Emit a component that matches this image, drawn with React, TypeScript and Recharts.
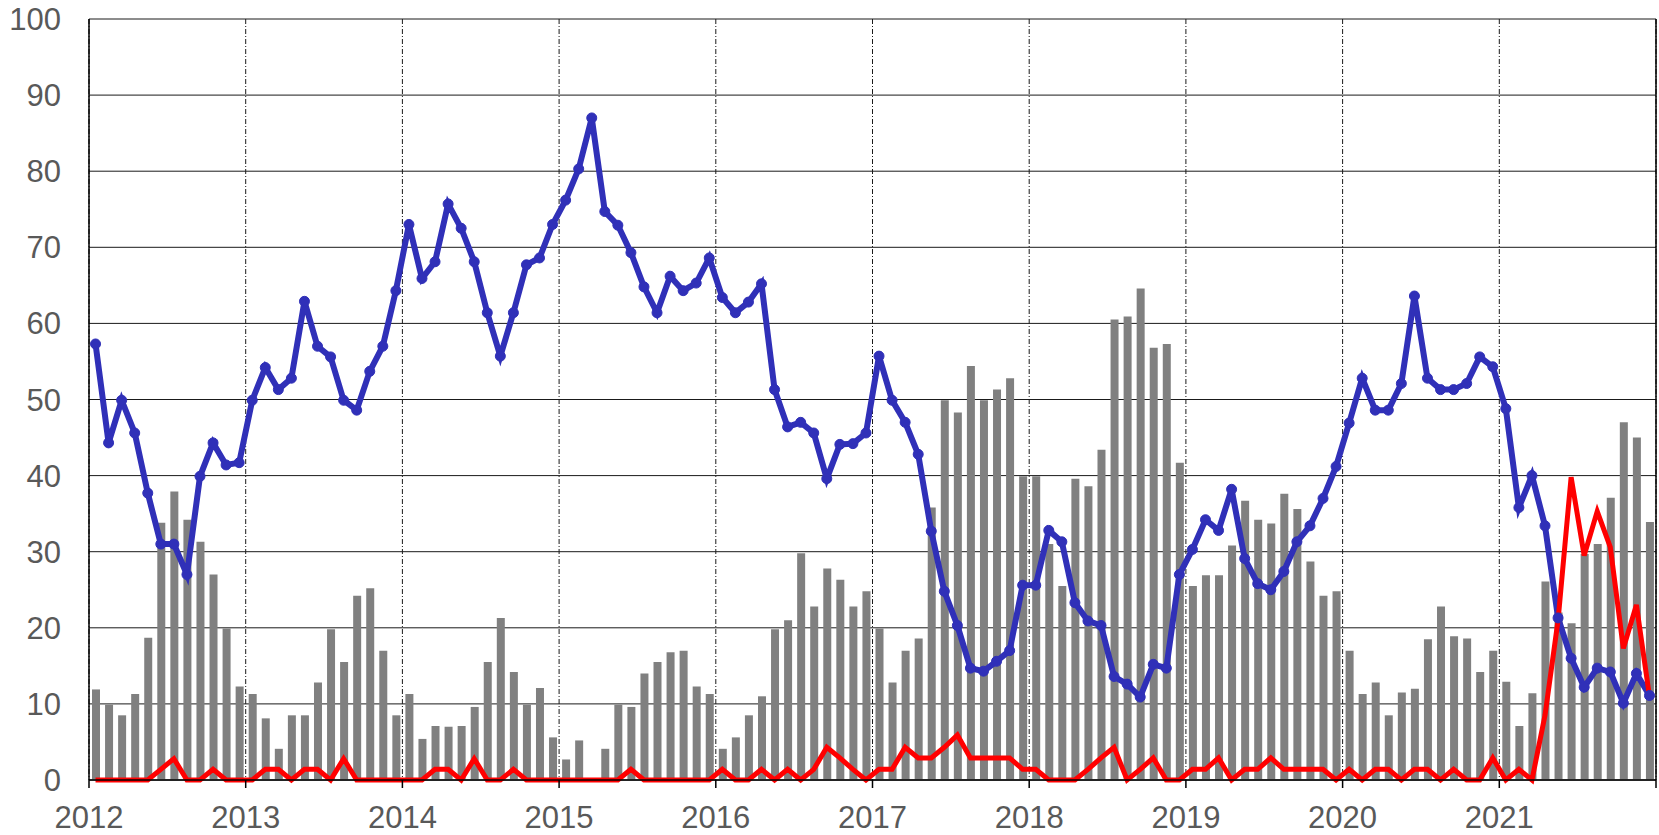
import React from 'react';
import {
  ComposedChart,
  Bar,
  Line,
  XAxis,
  YAxis,
  CartesianGrid,
} from 'recharts';

const years = ['2012', '2013', '2014', '2015', '2016', '2017', '2018', '2019', '2020', '2021'];

// grey bars, one per month Jan 2012 .. Dec 2021
const barValues = [
  11.9, 9.9, 8.5, 11.3, 18.7, 33.8, 37.9, 34.2, 31.3, 27.0, 19.9, 12.3,
  11.3, 8.1, 4.1, 8.5, 8.5, 12.8, 19.8, 15.5, 24.2, 25.2, 17.0, 8.5,
  11.3, 5.4, 7.1, 7.0, 7.1, 9.6, 15.5, 21.3, 14.2, 9.9, 12.1, 5.6,
  2.7, 5.2, 0, 4.1, 9.9, 9.6, 14.0, 15.5, 16.8, 17.0, 12.3, 11.3,
  4.1, 5.6, 8.5, 11.0, 19.8, 21.0, 29.8, 22.8, 27.8, 26.3, 22.8, 24.8,
  19.9, 12.8, 17.0, 18.6, 35.8, 49.9, 48.3, 54.4, 49.9, 51.3, 52.8, 39.9,
  39.9, 31.0, 25.5, 39.6, 38.6, 43.4, 60.5, 60.9, 64.6, 56.8, 57.3, 41.7,
  25.5, 26.9, 26.9, 30.8, 36.7, 34.2, 33.7, 37.6, 35.6, 28.7, 24.2, 24.8,
  17.0, 11.3, 12.8, 8.5, 11.5, 12.0, 18.5, 22.8, 18.9, 18.6, 14.2, 17.0,
  12.9, 7.1, 11.4, 26.1, 22.0, 20.6, 29.7, 31.0, 37.1, 47.0, 45.0, 33.9,
];

// blue line with markers
const blueValues = [
  57.3, 44.3, 49.9, 45.6, 37.7, 31.0, 31.0, 27.0, 39.9, 44.3, 41.4, 41.7,
  49.9, 54.2, 51.3, 52.8, 62.9, 57.0, 55.6, 49.9, 48.6, 53.7, 57.0, 64.3,
  73.0, 65.9, 68.1, 75.7, 72.5, 68.1, 61.4, 55.7, 61.4, 67.7, 68.6, 73.0,
  76.2, 80.3, 87.0, 74.7, 72.9, 69.3, 64.8, 61.4, 66.2, 64.3, 65.3, 68.6,
  63.4, 61.4, 62.8, 65.2, 51.3, 46.4, 47.0, 45.6, 39.6, 44.1, 44.2, 45.6,
  55.7, 49.9, 47.0, 42.8, 32.7, 24.8, 20.3, 14.7, 14.3, 15.6, 17.0, 25.6,
  25.6, 32.8, 31.3, 23.3, 20.9, 20.3, 13.6, 12.6, 10.9, 15.2, 14.7, 27.0,
  30.3, 34.2, 32.8, 38.2, 29.1, 25.8, 25.0, 27.4, 31.3, 33.4, 37.0, 41.2,
  46.9, 52.8, 48.6, 48.6, 52.1, 63.6, 52.8, 51.3, 51.3, 52.1, 55.6, 54.3,
  48.8, 35.8, 40.0, 33.4, 21.3, 16.0, 12.2, 14.7, 14.2, 10.1, 14.0, 11.1,
];

// red line
const redValues = [
  0, 0, 0, 0, 0, 1.4, 2.8, 0, 0, 1.4, 0, 0,
  0, 1.4, 1.4, 0, 1.4, 1.4, 0, 2.8, 0, 0, 0, 0,
  0, 0, 1.4, 1.4, 0, 2.8, 0, 0, 1.4, 0, 0, 0,
  0, 0, 0, 0, 0, 1.4, 0, 0, 0, 0, 0, 0,
  1.4, 0, 0, 1.4, 0, 1.4, 0, 1.4, 4.3, 2.9, 1.4, 0,
  1.4, 1.4, 4.3, 2.9, 2.9, 4.3, 5.9, 2.9, 2.9, 2.9, 2.9, 1.4,
  1.4, 0, 0, 0, 1.4, 2.9, 4.3, 0, 1.4, 2.9, 0, 0,
  1.4, 1.4, 2.9, 0, 1.4, 1.4, 2.9, 1.4, 1.4, 1.4, 1.4, 0,
  1.4, 0, 1.4, 1.4, 0, 1.4, 1.4, 0, 1.4, 0, 0, 2.9,
  0, 1.4, 0, 8.5, 21.0, 39.8, 29.5, 35.3, 30.6, 17.3, 23.0, 11.0,
];

const yTicks = [0, 10, 20, 30, 40, 50, 60, 70, 80, 90, 100];

const data = barValues.map((v, i) => ({
  x: i + 0.5,
  bar: v,
  blue: blueValues[i],
  red: redValues[i],
}));

const monthCount = years.length * 12;
const xTicks = years.map((_, i) => i * 12).concat(monthCount);

const font = '"Liberation Sans", Arial, sans-serif';
const tickStyle = { fill: '#595959', fontSize: 31, fontFamily: font };

export default function App() {
  return (
    <div style={{ position: 'absolute', left: 0, top: 0 }}>
      <ComposedChart
        width={1659}
        height={835}
        data={data}
        margin={{ top: 19, right: 0, bottom: 0, left: 0 }}
      >
        <CartesianGrid horizontal vertical={false} stroke="#1a1a1a" strokeWidth={1} />
        <CartesianGrid
          horizontal={false}
          vertical
          stroke="#1a1a1a"
          strokeWidth={1}
          strokeDasharray="5 2 1 2"
        />
        <XAxis
          dataKey="x"
          type="number"
          domain={[0, monthCount]}
          ticks={xTicks}
          tickFormatter={(v: number) => years[v / 12] ?? ''}
          height={55}
          stroke="#000"
          strokeWidth={1.5}
          tickSize={8}
          tickMargin={18}
          tick={tickStyle}
          interval={0}
        />
        <YAxis
          domain={[0, 100]}
          ticks={yTicks}
          width={89}
          stroke="#000"
          strokeWidth={1.5}
          tickLine={false}
          tickSize={0}
          tickMargin={28}
          tick={tickStyle}
          interval={0}
        />
        <YAxis
          yAxisId="frame"
          orientation="right"
          domain={[0, 100]}
          width={3}
          tick={false}
          tickLine={false}
          stroke="#000"
          strokeWidth={1.5}
        />
        <Bar dataKey="bar" fill="#808080" barSize={8} isAnimationActive={false} />
        <Line
          dataKey="blue"
          type="linear"
          stroke="#3030B8"
          strokeWidth={6}
          dot={{ r: 5, fill: '#3030B8', stroke: '#3030B8', strokeWidth: 1 }}
          activeDot={false}
          isAnimationActive={false}
        />
        <Line
          dataKey="red"
          type="linear"
          stroke="#FF0000"
          strokeWidth={5}
          dot={false}
          activeDot={false}
          isAnimationActive={false}
        />
      </ComposedChart>
    </div>
  );
}
